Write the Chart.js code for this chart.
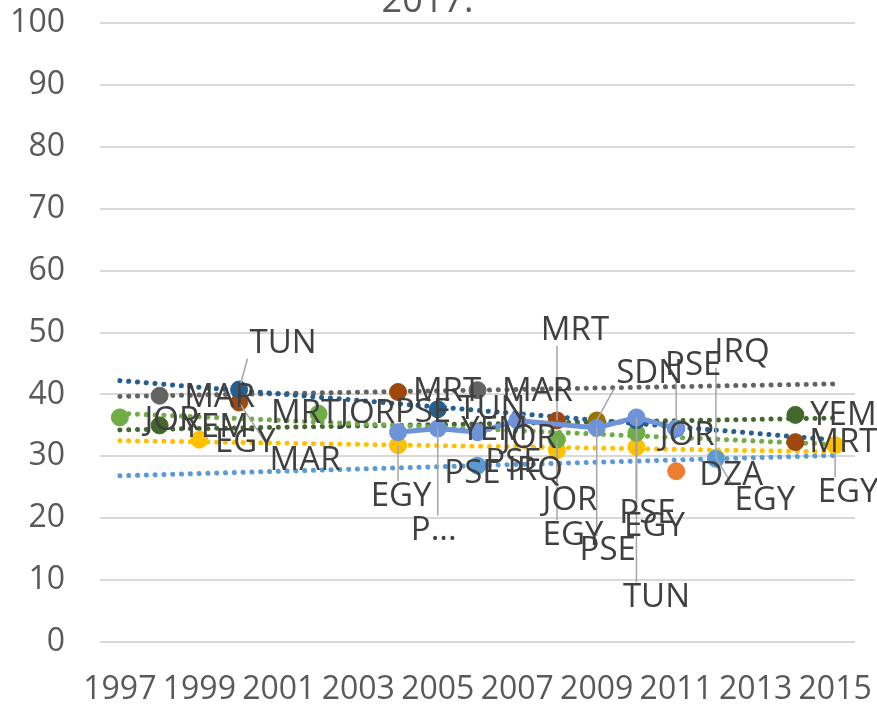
<!DOCTYPE html>
<html>
<head>
<meta charset="utf-8">
<script src="https://cdn.jsdelivr.net/npm/chart.js@4.4.1/dist/chart.umd.min.js"></script>
<style>
  html, body { margin: 0; padding: 0; background: #fff; overflow: hidden; }
  #wrap { position: absolute; left: 0; top: -31px; width: 877px; height: 739px; }
</style>
</head>
<body>
<div id="wrap"><canvas id="chart" width="877" height="739"></canvas></div>
<script>
// x categories
var years = ['1997','1998','1999','2000','2001','2002','2003','2004','2005','2006',
             '2007','2008','2009','2010','2011','2012','2013','2014','2015'];

// series (year, value, point label)
var tunYears = [2000, 2005, 2010, 2011];
var tunVals  = [40.8, 37.6, 35.8, 34.5];
var tunText  = ['TUN', 'TUN', 'TUN', 'JOR'];

var marYears = [1998, 2006];
var marVals  = [39.8, 40.7];
var marText  = ['MAR', 'MAR'];

var mrtYears = [2000, 2004, 2008, 2014];
var mrtVals  = [38.7, 40.4, 35.8, 32.3];
var mrtText  = [['MRT', 'MAR'], 'MRT', 'MRT', 'MRT'];

var jorYears = [1997, 2002, 2008, 2010];
var jorVals  = [36.3, 36.9, 32.7, 33.8];
var jorText  = ['JOR', 'JOR', 'JOR', ''];

var yemYears = [1998, 2006, 2014];
var yemVals  = [35.0, 34.0, 36.7];
var yemText  = ['YEM', 'YEM', 'YEM'];

var egyYears = [1999, 2004, 2008, 2010, 2012, 2015];
var egyVals  = [32.7, 31.8, 31.0, 31.5, 29.8, 31.8];
var egyText  = ['EGY', 'EGY', 'EGY', 'EGY', 'EGY', 'EGY'];

var irqYears = [2006, 2012];
var irqVals  = [28.5, 29.6];
var irqText  = ['PSE', 'IRQ'];

var dzaYears = [2011];
var dzaVals  = [27.6];
var dzaText  = ['DZA'];

var sdnYears = [2009];
var sdnVals  = [35.8];
var sdnText  = ['SDN'];

var pseYears = [2004, 2005, 2006, 2007, 2009, 2010, 2011];
var pseVals  = [33.9, 34.5, 33.9, 35.8, 34.6, 36.3, 34.5];
var pseText  = ['PSE', 'P...', 'PSE', ['JOR', 'IRQ'], 'PSE', 'PSE', 'PSE'];

// label placement (offset from point in px, 1 = leader line)
var labelPos = {
  tun: [[44, -46, 1], [54, 0, 0], [20, 177, 1], [11, 7, 0]],
  mar: [[60, 2, 0], [60, 1, 0]],
  mrt: [[[66, 11, 0], [66, 58, 1]], [49, 0, 0], [18, -90, 1], [48, 0, 0]],
  jor: [[52, 3, 0], [49, 0, 0], [13, 61, 1], [0, 0, 0]],
  yem: [[56, 2, 0], [17, -1, 0], [48, 1, 0]],
  egy: [[46, 3, 0], [3, 51, 1], [16, 85, 1], [18, 80, 1], [49, 43, 1], [13, 47, 1]],
  irq: [[-5, 8, 0], [26, -106, 1]],
  dza: [[55, 4, 0]],
  sdn: [[53, -47, 1]],
  pse: [[25, -20, 0], [-4, 102, 1], [36, 30, 0], [[12, 18, 0], [18, 50, 0]], [11, 123, 1], [11, 96, 1], [17, -63, 1]]
};

function pts(ys, vs) {
  return ys.map(function (y, i) { return { x: String(y), y: vs[i] }; });
}

// least squares line, like the chart's linear trendline
function trend(ys, vs) {
  var n = ys.length, mx = 0, my = 0, sxy = 0, sxx = 0;
  for (var i = 0; i < n; i++) { mx += ys[i] / n; my += vs[i] / n; }
  for (var j = 0; j < n; j++) {
    sxy += (ys[j] - mx) * (vs[j] - my);
    sxx += (ys[j] - mx) * (ys[j] - mx);
  }
  var b = sxy / sxx, a = my - b * mx;
  return [{ x: years[0], y: a + b * +years[0] }, { x: years[years.length - 1], y: a + b * +years[years.length - 1] }];
}

function markers(ys, vs, text, pos, color, order) {
  return {
    data: pts(ys, vs), showLine: false, order: order,
    pointRadius: 8.5, pointHoverRadius: 8.5,
    pointBackgroundColor: color, pointBorderColor: color, pointBorderWidth: 1,
    ptLabels: text, ptLabelPos: pos
  };
}

function trendSet(ys, vs, color) {
  return {
    data: trend(ys, vs), order: 30, borderColor: color, borderWidth: 5,
    borderDash: [0.1, 8.7], borderCapStyle: 'round', pointRadius: 0, fill: false
  };
}

var pointLabels = {
  id: 'pointLabels',
  afterDatasetsDraw: function (chart) {
    var ctx = chart.ctx;
    var items = [];
    ctx.save();
    ctx.font = '33px "Open Sans"';
    chart.data.datasets.forEach(function (ds, i) {
      if (!ds.ptLabels) return;
      var meta = chart.getDatasetMeta(i);
      meta.data.forEach(function (el, j) {
        var t = ds.ptLabels[j];
        var p = ds.ptLabelPos[j];
        var texts = Array.isArray(t) ? t : [t];
        var poses = Array.isArray(p[0]) ? p : [p];
        texts.forEach(function (s, k) {
          if (!s) return;
          var q = poses[k];
          items.push({ s: s, px: el.x, py: el.y, cx: el.x + q[0], cy: el.y + q[1], lead: q[2] });
        });
      });
    });
    ctx.strokeStyle = '#A6A6A6';
    ctx.lineWidth = 1.5;
    items.forEach(function (it) {
      if (!it.lead) return;
      var w = ctx.measureText(it.s).width / 2 + 2, h = 15;
      var ex = Math.max(it.cx - w, Math.min(it.px, it.cx + w));
      var ey = Math.max(it.cy - h, Math.min(it.py, it.cy + h));
      ctx.beginPath();
      ctx.moveTo(it.px, it.py);
      ctx.lineTo(ex, ey);
      ctx.stroke();
    });
    ctx.fillStyle = '#404040';
    ctx.textAlign = 'center';
    ctx.textBaseline = 'middle';
    items.forEach(function (it) { ctx.fillText(it.s, it.cx, it.cy); });
    ctx.restore();
  }
};

var pseLine = markers(pseYears, pseVals, pseText, labelPos.pse, '#6F93D8', 1);
pseLine.showLine = true;
pseLine.borderColor = '#6F93D8';
pseLine.borderWidth = 5;

new Chart(document.getElementById('chart').getContext('2d'), {
  type: 'line',
  data: {
    labels: years,
    datasets: [
      pseLine,
      markers(irqYears, irqVals, irqText, labelPos.irq, '#5B9BD5', 2),
      markers(tunYears, tunVals, tunText, labelPos.tun, '#255E91', 3),
      markers(jorYears, jorVals, jorText, labelPos.jor, '#70AD47', 4),
      markers(mrtYears, mrtVals, mrtText, labelPos.mrt, '#9E480E', 5),
      markers(marYears, marVals, marText, labelPos.mar, '#636363', 6),
      markers(yemYears, yemVals, yemText, labelPos.yem, '#43682B', 7),
      markers(egyYears, egyVals, egyText, labelPos.egy, '#FFC000', 8),
      markers(sdnYears, sdnVals, sdnText, labelPos.sdn, '#997300', 9),
      markers(dzaYears, dzaVals, dzaText, labelPos.dza, '#ED7D31', 9),
      trendSet(tunYears, tunVals, '#255E91'),
      trendSet(marYears, marVals, '#636363'),
      trendSet(jorYears, jorVals, '#70AD47'),
      trendSet(yemYears, yemVals, '#43682B'),
      trendSet(egyYears, egyVals, '#FFC000'),
      trendSet(irqYears, irqVals, '#5B9BD5')
    ]
  },
  options: {
    responsive: false,
    animation: false,
    layout: { padding: { left: 0, right: 22, top: 0, bottom: 0 } },
    plugins: {
      legend: { display: false },
      tooltip: { enabled: false },
      title: {
        display: true,
        text: '2017.',
        color: '#595959',
        font: { family: 'Open Sans', size: 36, weight: 'normal' },
        padding: 0
      }
    },
    scales: {
      x: {
        offset: true,
        grid: { display: false },
        border: { display: false },
        afterFit: function (s) { s.height = 66; s.paddingLeft = 0; s.paddingRight = 0; },
        ticks: {
          autoSkip: false, maxRotation: 0, padding: 21,
          color: '#595959', font: { family: 'Open Sans', size: 32 },
          callback: function (v, i) { return i % 2 === 0 ? this.getLabelForValue(v) : ''; }
        }
      },
      y: {
        min: 0, max: 100,
        afterFit: function (s) { s.width = 100; },
        grid: { color: '#D9D9D9', lineWidth: 2, drawTicks: false },
        border: { display: false },
        ticks: {
          stepSize: 10, padding: 35,
          color: '#595959', font: { family: 'Open Sans', size: 32 }
        }
      }
    }
  },
  plugins: [pointLabels]
});
</script>
</body>
</html>
